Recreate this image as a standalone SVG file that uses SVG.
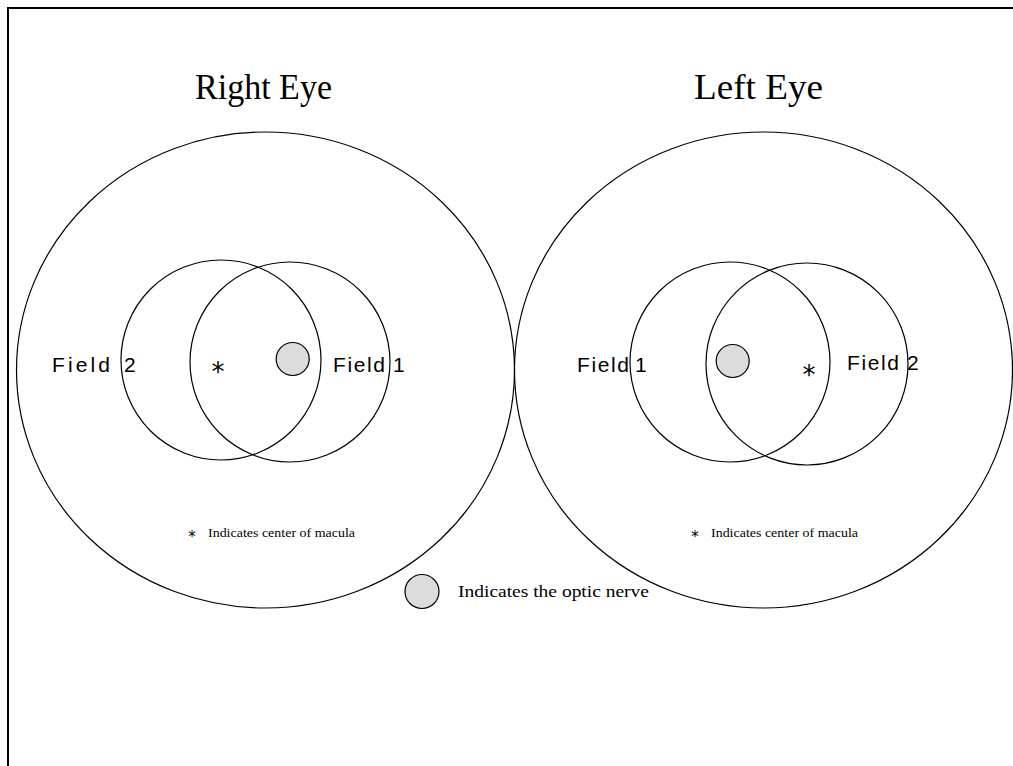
<svg xmlns="http://www.w3.org/2000/svg" width="1013" height="766" viewBox="0 0 1013 766">
<style>
.ln{fill:none;stroke:#000;stroke-width:1.2}
.disk{fill:#dcdcdc;stroke:#000;stroke-width:1.2}
.title{font-family:"Liberation Serif",serif;font-size:35px;fill:#000}
.field{font-family:"Liberation Sans",sans-serif;font-size:21px;fill:#000}
.ast{font-family:"DejaVu Sans",sans-serif;font-size:26px;fill:#000}
.sast{font-family:"DejaVu Sans",sans-serif;font-size:15px;fill:#000}
.small{font-family:"Liberation Serif",serif;font-size:12.5px;fill:#000}
.legend{font-family:"Liberation Serif",serif;font-size:17px;fill:#000}
</style>
<rect x="0" y="0" width="1013" height="766" fill="#fff"/>
<path d="M8 766 V8 H1013" fill="none" stroke="#000" stroke-width="2"/>
<g id="right-eye">
<text class="title" x="195" y="99" textLength="137" lengthAdjust="spacingAndGlyphs">Right Eye</text>
<ellipse class="ln" cx="265.5" cy="370" rx="249" ry="238"/>
<circle class="ln" cx="221" cy="360" r="100"/>
<circle class="ln" cx="290" cy="362" r="100"/>
<circle class="disk" cx="292.7" cy="359" r="16.5"/>
<text class="ast" x="218" y="381" text-anchor="middle">*</text>
<text class="field" x="52" y="372" textLength="58" lengthAdjust="spacing">Field</text>
<text class="field" x="124" y="372">2</text>
<text class="field" x="333" y="372" textLength="52" lengthAdjust="spacing">Field</text>
<text class="field" x="393" y="372">1</text>
<text class="sast" x="192" y="542" text-anchor="middle">*</text>
<text class="small" x="208" y="537" textLength="147" lengthAdjust="spacingAndGlyphs">Indicates center of macula</text>
</g>
<g id="left-eye">
<text class="title" x="694" y="99" textLength="129" lengthAdjust="spacingAndGlyphs">Left Eye</text>
<ellipse class="ln" cx="763.5" cy="370" rx="249" ry="238"/>
<circle class="ln" cx="730" cy="362" r="100"/>
<circle class="ln" cx="807" cy="364" r="101"/>
<circle class="disk" cx="732.7" cy="361" r="16.5"/>
<text class="ast" x="809" y="384" text-anchor="middle">*</text>
<text class="field" x="577" y="372" textLength="52" lengthAdjust="spacing">Field</text>
<text class="field" x="635" y="372">1</text>
<text class="field" x="847" y="370" textLength="52" lengthAdjust="spacing">Field</text>
<text class="field" x="907" y="370">2</text>
<text class="sast" x="695" y="542" text-anchor="middle">*</text>
<text class="small" x="711" y="537" textLength="147" lengthAdjust="spacingAndGlyphs">Indicates center of macula</text>
</g>
<g id="legend">
<circle class="disk" cx="422" cy="591.5" r="17"/>
<text class="legend" x="458" y="597" textLength="191" lengthAdjust="spacingAndGlyphs">Indicates the optic nerve</text>
</g>
<g id="connectors"/>
</svg>
